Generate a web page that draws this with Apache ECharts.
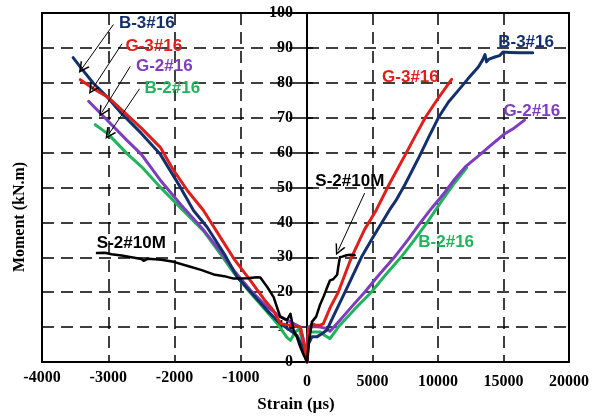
<!DOCTYPE html>
<html>
<head>
<meta charset="utf-8">
<script src="https://cdn.jsdelivr.net/npm/echarts@6/dist/echarts.min.js"></script>
<style>
  html, body { margin: 0; padding: 0; background: #fff; }
  #chart { width: 592px; height: 418px; }
</style>
</head>
<body>
<div id="chart"></div>
<script>
// Moment (kN.m) versus strain (µs) for five beams.
// Compression branch (negative strain) and tension branch (positive strain) are kept apart,
// because the two sides of the strain axis use different scales.

// B-3#16
const b3NegStrain = [-3530, -3400, -3221, -3000, -2818, -2500, -2214, -1912, -1713, -1509, -1250, -1057, -800, -604, -403, -250, -151, -60, 0];
const b3NegMoment = [87.2, 84.0, 79.8, 75.6, 71.6, 65.5, 59.5, 50.1, 43.4, 38.7, 31.0, 24.4, 19.0, 14.8, 11.0, 9.0, 7.6, 4.0, 0];
const b3PosStrain = [0, 126, 377, 755, 1132, 1509, 2000, 2900, 4150, 5000, 6287, 6792, 7500, 8551, 9300, 10060, 10800, 11570, 12300, 13079, 13400, 13585, 13706, 13900, 14340, 14700, 14966, 15500, 16200, 17230];
const b3PosMoment = [0, 5.3, 7.2, 7.2, 8.1, 9.1, 13.0, 20.0, 30.0, 35.5, 43.5, 46.3, 51.0, 58.7, 64.5, 70.2, 74.5, 77.9, 81.2, 84.5, 86.5, 88.1, 86.0, 86.8, 87.4, 87.8, 88.8, 88.7, 88.6, 88.6];

// G-3#16
const g3NegStrain = [-3422, -3221, -3000, -2818, -2500, -2214, -2013, -1800, -1562, -1300, -1100, -856, -650, -508, -400, -250, -101, -40, 0];
const g3NegMoment = [80.9, 78.3, 75.8, 72.6, 67.0, 61.5, 54.9, 49.0, 43.4, 35.5, 29.5, 23.4, 18.0, 14.8, 11.0, 10.5, 10.0, 5.0, 0];
const g3PosStrain = [0, 100, 377, 700, 1004, 1253, 1758, 2385, 3396, 4400, 5283, 6287, 7547, 8300, 9057, 10000, 11040];
const g3PosMoment = [0, 9.0, 11.0, 10.5, 10.5, 11.0, 15.5, 20.0, 30.0, 38.0, 43.5, 51.0, 59.7, 65.0, 70.2, 75.5, 81.0];

// G-2#16
const g2NegStrain = [-3296, -3000, -2717, -2500, -2214, -1900, -1560, -1300, -1107, -850, -604, -400, -202, -101, -40, 0];
const g2NegMoment = [74.7, 69.0, 63.5, 59.5, 52.1, 45.0, 37.8, 31.5, 26.3, 20.5, 15.8, 13.0, 11.0, 10.0, 5.0, 0];
const g2PosStrain = [0, 126, 500, 1000, 1509, 1758, 2500, 3400, 4400, 5500, 6664, 7700, 8679, 9500, 10500, 11300, 12075, 13000, 14000, 15094, 15800, 16604];
const g2PosMoment = [0, 10.0, 10.2, 10.0, 9.6, 8.8, 11.9, 15.8, 20.0, 25.0, 30.0, 35.0, 40.0, 44.0, 48.5, 52.5, 55.9, 58.8, 62.0, 65.4, 67.0, 69.3];

// B-2#16
const b2NegStrain = [-3196, -3000, -2717, -2500, -2214, -1900, -1560, -1300, -1107, -900, -700, -450, -300, -250, -176, -120, -50, 0];
const b2NegMoment = [68.0, 65.3, 59.7, 56.0, 50.1, 44.0, 37.5, 30.8, 25.6, 20.8, 16.5, 11.0, 7.0, 6.2, 8.6, 9.5, 5.0, 0];
const b2PosStrain = [0, 126, 600, 1004, 1400, 1758, 2385, 3600, 4906, 6000, 7170, 8200, 9177, 10310, 11200, 12198];
const b2PosMoment = [0, 8.6, 8.6, 8.6, 7.5, 6.7, 10.0, 15.0, 20.0, 25.0, 30.0, 35.0, 40.0, 46.3, 51.0, 55.7];

// S-2#10M
const s2NegStrain = [-3170, -3050, -2950, -2800, -2650, -2500, -2466, -2400, -2200, -2013, -1800, -1600, -1409, -1390, -1250, -1107, -900, -760, -705, -600, -504, -403, -302, -250, -202, -150, -101, -50, 0];
const s2NegMoment = [31.2, 31.3, 30.9, 30.5, 30.0, 29.5, 29.0, 29.6, 29.3, 28.7, 27.5, 26.4, 25.1, 25.6, 24.6, 23.9, 24.0, 24.3, 24.2, 21.5, 18.6, 12.9, 12.0, 13.8, 9.1, 7.0, 4.3, 2.0, 0];
const s2PosStrain = [0, 150, 300, 377, 500, 700, 1004, 1253, 1500, 1758, 2000, 2136, 2300, 2385, 2513, 2700, 3019, 3300, 3645];
const s2PosMoment = [0, 6.0, 9.5, 11.5, 11.0, 13.0, 16.5, 18.6, 21.0, 23.4, 23.7, 23.9, 25.0, 27.2, 30.0, 30.2, 30.6, 30.7, 30.6];

// Axis ranges and tick steps
const negStrainRange = [-4000, 0];
const negStrainStep = 1000;
const posStrainRange = [0, 20000];
const posStrainStep = 5000;
const momentRange = [0, 100];
const momentStep = 10;

// Line colours
const NAVY = '#14306c';
const RED = '#df1f1c';
const PURPLE = '#7e3dbe';
const GREEN = '#21b45c';
const BLACK = '#000000';

const beams = [
  { name: 'B-2#16', color: GREEN, width: 3, neg: [b2NegStrain, b2NegMoment], pos: [b2PosStrain, b2PosMoment] },
  { name: 'G-2#16', color: PURPLE, width: 3, neg: [g2NegStrain, g2NegMoment], pos: [g2PosStrain, g2PosMoment] },
  { name: 'B-3#16', color: NAVY, width: 3, neg: [b3NegStrain, b3NegMoment], pos: [b3PosStrain, b3PosMoment] },
  { name: 'G-3#16', color: RED, width: 3, neg: [g3NegStrain, g3NegMoment], pos: [g3PosStrain, g3PosMoment] },
  { name: 'S-2#10M', color: BLACK, width: 2.5, neg: [s2NegStrain, s2NegMoment], pos: [s2PosStrain, s2PosMoment] }
];

// Beam name callouts, placed in (strain, moment) units of each side
const calloutsNeg = [
  { text: 'B-3#16', color: NAVY, at: [-2418, 97.0] },
  { text: 'G-3#16', color: RED, at: [-2312, 90.5] },
  { text: 'G-2#16', color: PURPLE, at: [-2154, 84.8] },
  { text: 'B-2#16', color: GREEN, at: [-2033, 78.5] },
  { text: 'S-2#10M', color: BLACK, at: [-2652, 33.9] }
];
const calloutsPos = [
  { text: 'B-3#16', color: NAVY, at: [16725, 91.7] },
  { text: 'G-3#16', color: RED, at: [7894, 81.5] },
  { text: 'G-2#16', color: PURPLE, at: [17155, 71.8] },
  { text: 'S-2#10M', color: BLACK, at: [3268, 51.8] },
  { text: 'B-2#16', color: GREEN, at: [10626, 34.4] }
];
// Pointer arrows from callouts to curves: [from, to]
const arrowsNeg = [
  [[-2922, 96.7], [-3396, 84.1]],
  [[-2792, 91.2], [-3245, 78.1]],
  [[-2667, 84.7], [-3094, 71.6]],
  [[-2527, 78.3], [-2995, 65.2]]
];
const arrowsPos = [
  [[4400, 48.4], [2385, 32.0]]
];

const zip = (xs, ys) => xs.map((x, i) => [x, ys[i]]);

const serifFont = 'Liberation Serif';
const sansFont = 'Liberation Sans';
const dashed = { color: '#000', width: 1.5, type: [12, 7] };
const chevron = 'path://M5,0 L10,10 L8.5,10 L5,3 L1.5,10 L0,10 Z';

function calloutMarks(list) {
  return {
    symbol: 'circle',
    symbolSize: 1,
    silent: true,
    itemStyle: { color: 'rgba(0,0,0,0)' },
    data: list.map(c => ({
      name: c.text,
      coord: c.at,
      label: {
        show: true, position: 'inside', formatter: '{b}',
        color: c.color, fontFamily: sansFont, fontWeight: 'bold', fontSize: 17
      }
    }))
  };
}

function arrowMarks(list) {
  return {
    silent: true,
    symbol: ['none', chevron],
    symbolSize: 11,
    label: { show: false },
    lineStyle: { color: '#000', width: 1, type: 'solid' },
    emphasis: { disabled: true },
    data: list.map(a => [{ coord: a[0] }, { coord: a[1] }])
  };
}

const series = [];
beams.forEach(b => {
  const common = {
    name: b.name, type: 'line', symbol: 'none', showSymbol: false, smooth: false,
    lineStyle: { color: b.color, width: b.width, cap: 'round', join: 'round' },
    itemStyle: { color: b.color }, animation: false, z: 3
  };
  series.push(Object.assign({}, common, { xAxisIndex: 0, yAxisIndex: 0, data: zip(b.neg[0], b.neg[1]) }));
  series.push(Object.assign({}, common, { xAxisIndex: 1, yAxisIndex: 1, data: zip(b.pos[0], b.pos[1]) }));
});
// callouts and arrows ride on the S-2#10M series of each side
series[series.length - 2].markPoint = calloutMarks(calloutsNeg);
series[series.length - 2].markLine = arrowMarks(arrowsNeg);
series[series.length - 1].markPoint = calloutMarks(calloutsPos);
series[series.length - 1].markLine = arrowMarks(arrowsPos);

const plain = v => String(v);
const tickLabel = { color: '#000', fontFamily: serifFont, fontWeight: 'bold', fontSize: 16, formatter: plain };

const option = {
  animation: false,
  backgroundColor: '#fff',
  grid: [
    { left: 42, top: 13, width: 265, height: 349, show: true, borderColor: '#000', borderWidth: 2, containLabel: false },
    { left: 307, top: 13, width: 265, height: 349, show: true, borderColor: '#000', borderWidth: 2, containLabel: false }
  ],
  xAxis: [
    {
      type: 'value', gridIndex: 0, min: negStrainRange[0], max: negStrainRange[1], interval: negStrainStep,
      axisLine: { show: true, onZero: false, lineStyle: { color: '#000', width: 2 } },
      axisTick: { show: false },
      axisLabel: Object.assign({ margin: 8, showMaxLabel: false }, tickLabel),
      splitLine: { show: true, lineStyle: dashed }
    },
    {
      type: 'value', gridIndex: 1, min: posStrainRange[0], max: posStrainRange[1], interval: posStrainStep,
      axisLine: { show: true, onZero: false, lineStyle: { color: '#000', width: 2 } },
      axisTick: { show: false },
      axisLabel: Object.assign({ margin: 12 }, tickLabel),
      splitLine: { show: true, lineStyle: dashed }
    }
  ],
  yAxis: [
    {
      type: 'value', gridIndex: 0, position: 'right', min: momentRange[0], max: momentRange[1], interval: momentStep,
      axisLine: { show: true, onZero: false, lineStyle: { color: '#000', width: 2 } },
      axisTick: { show: true, inside: true, length: 6, lineStyle: { color: '#000', width: 1.5 } },
      axisLabel: Object.assign({ inside: true, margin: 14 }, tickLabel),
      splitLine: { show: true, lineStyle: dashed }
    },
    {
      type: 'value', gridIndex: 1, position: 'left', min: momentRange[0], max: momentRange[1], interval: momentStep,
      axisLine: { show: true, onZero: false, lineStyle: { color: '#000', width: 2 } },
      axisTick: { show: true, inside: true, length: 6, lineStyle: { color: '#000', width: 1.5 } },
      axisLabel: { show: false },
      splitLine: { show: true, lineStyle: dashed }
    }
  ],
  graphic: [
    {
      type: 'text', left: 'center', top: 396,
      style: { text: 'Strain (µs)', font: 'bold 17px "Liberation Serif"', fill: '#000' }
    },
    {
      type: 'text', x: 20, y: 217, rotation: Math.PI / 2,
      style: { text: 'Moment (kN.m)', font: 'bold 16px "Liberation Serif"', fill: '#000', align: 'center', verticalAlign: 'middle' }
    }
  ],
  series: series
};

const chart = echarts.init(document.getElementById('chart'), null, { renderer: 'canvas' });
chart.setOption(option);
</script>
</body>
</html>
